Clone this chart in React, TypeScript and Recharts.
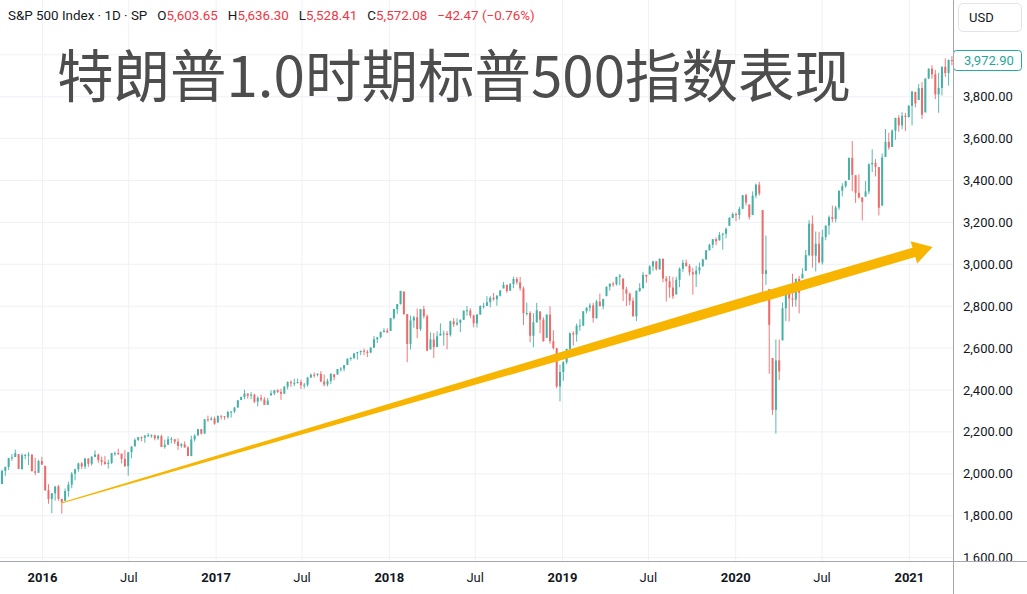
import React from 'react';
import { ComposedChart, Bar, XAxis, YAxis, CartesianGrid, ReferenceLine } from 'recharts';

// ---------- layout ----------
const CHART_W = 1027;
const CHART_H = 594;
const X_AXIS_H = 33;
const Y_AXIS_W = 74;
const PLOT_W = CHART_W - Y_AXIS_W;
const PLOT_H = CHART_H - X_AXIS_H;

const UP = '#45b1a6';
const DOWN = '#ee6b6b';
const BADGE = '#26a69a';
const ARROW = '#f7b500';
const TEXT = '#131722';
const GRID = '#eef1f7';
const FRAME = '#a3a6ae';
const LATIN = 'Roboto, "Noto Sans", sans-serif';

// ---------- texts ----------
const TITLE = '特朗普1.0时期标普500指数表现';
const SYMBOL = 'S&P 500 Index · 1D · SP';
const OHLC_LABELS = ['O', 'H', 'L', 'C'];
const OHLC_VALUES = ['5,603.65', '5,636.30', '5,528.41', '5,572.08'];
const CHANGE = '−42.47 (−0.76%)';
const CURRENCY = 'USD';

// ---------- axes ----------
const X_DOMAIN = [-89.5, 1919];
const Y_DOMAIN = [1583.8, 4261.6];
const Y_TICKS = [1600, 1800, 2000, 2200, 2400, 2600, 2800, 3000, 3200, 3400, 3600, 3800, 4000];
const X_TICK_DATES = ['2016-01-01', '2016-07-01', '2017-01-01', '2017-07-01', '2018-01-01', '2018-07-01',
  '2019-01-01', '2019-07-01', '2020-01-01', '2020-07-01', '2021-01-01'];
const X_TICK_LABELS = ['2016', 'Jul', '2017', 'Jul', '2018', 'Jul', '2019', 'Jul', '2020', 'Jul', '2021'];

// ---------- weekly S&P 500 candles: [high, low, close]; one row per week ----------
const FIRST_WEEK = '2015-09-28';
const FIRST_OPEN = 1929;

const w2015 = [
  [1952, 1893, 1951], [2020, 1951, 2014], [2034, 1990, 2033], [2076, 2018, 2075], [2094, 2062, 2079],
  [2116, 2080, 2099], [2094, 2023, 2023], [2097, 2019, 2089], [2095, 2070, 2090], [2104, 2042, 2092],
  [2093, 2012, 2012], [2077, 1993, 2005], [2067, 2005, 2061], [2081, 2043, 2044],
];
const w2016 = [
  [2038, 1918, 1922], [1950, 1857, 1880], [1908, 1812, 1907], [1940, 1872, 1940], [1947, 1872, 1880],
  [1881, 1810, 1865], [1930, 1871, 1918], [1962, 1891, 1948], [2009, 1931, 2000], [2022, 1969, 2022],
  [2053, 2010, 2050], [2056, 2023, 2035], [2075, 2023, 2073], [2074, 2033, 2048], [2085, 2039, 2081],
  [2112, 2080, 2092], [2096, 2052, 2065], [2082, 2040, 2057], [2085, 2043, 2047], [2067, 2025, 2052],
  [2099, 2047, 2099], [2106, 2086, 2099], [2120, 2089, 2096], [2096, 2050, 2071], [2113, 2032, 2037],
  [2103, 1991, 2103], [2132, 2075, 2130], [2169, 2131, 2162], [2175, 2156, 2175], [2178, 2155, 2173],
  [2183, 2148, 2183], [2194, 2175, 2184], [2188, 2172, 2184], [2187, 2160, 2169], [2185, 2161, 2180],
  [2187, 2128, 2128], [2163, 2120, 2139], [2180, 2138, 2165], [2175, 2145, 2168], [2165, 2142, 2153],
  [2169, 2114, 2133], [2147, 2124, 2141], [2155, 2124, 2126], [2133, 2084, 2085], [2182, 2084, 2164],
  [2189, 2154, 2182], [2214, 2183, 2213], [2214, 2187, 2192], [2260, 2192, 2260], [2278, 2248, 2258],
  [2273, 2254, 2264], [2273, 2234, 2239],
];
const w2017 = [
  [2277, 2245, 2277], [2279, 2258, 2275], [2276, 2258, 2271], [2301, 2263, 2295], [2300, 2268, 2297],
  [2319, 2290, 2316], [2351, 2316, 2351], [2368, 2352, 2367], [2401, 2356, 2383], [2384, 2358, 2373],
  [2390, 2356, 2378], [2382, 2337, 2344], [2370, 2322, 2363], [2378, 2345, 2355], [2366, 2328, 2329],
  [2363, 2328, 2349], [2399, 2374, 2384], [2400, 2375, 2399], [2404, 2386, 2391], [2406, 2353, 2382],
  [2418, 2382, 2416], [2440, 2403, 2439], [2446, 2415, 2432], [2454, 2419, 2433], [2454, 2431, 2438],
  [2450, 2405, 2423], [2434, 2407, 2425], [2463, 2416, 2459], [2479, 2459, 2473], [2484, 2459, 2472],
  [2480, 2465, 2477], [2490, 2437, 2441], [2474, 2417, 2426], [2454, 2417, 2443], [2480, 2428, 2477],
  [2475, 2447, 2461], [2500, 2474, 2500], [2509, 2488, 2502], [2520, 2489, 2519], [2552, 2520, 2549],
  [2557, 2540, 2553], [2575, 2547, 2575], [2582, 2545, 2581], [2588, 2566, 2587], [2598, 2566, 2582],
  [2591, 2557, 2579], [2605, 2576, 2602], [2658, 2600, 2642], [2652, 2624, 2652], [2680, 2647, 2676],
  [2695, 2676, 2683], [2695, 2673, 2674],
];
const w2018 = [
  [2744, 2682, 2743], [2787, 2737, 2786], [2810, 2763, 2810], [2873, 2808, 2873], [2870, 2759, 2762],
  [2763, 2533, 2620], [2755, 2593, 2732], [2754, 2697, 2747], [2789, 2647, 2691], [2787, 2682, 2786],
  [2802, 2741, 2752], [2761, 2585, 2588], [2675, 2594, 2641], [2672, 2553, 2604], [2680, 2605, 2656],
  [2718, 2660, 2670], [2684, 2612, 2670], [2682, 2594, 2663], [2732, 2655, 2728], [2743, 2701, 2713],
  [2742, 2707, 2721], [2737, 2676, 2735], [2779, 2735, 2779], [2801, 2755, 2780], [2790, 2743, 2755],
  [2760, 2699, 2718], [2763, 2698, 2760], [2804, 2760, 2801], [2816, 2789, 2802], [2848, 2801, 2819],
  [2848, 2795, 2840], [2863, 2826, 2833], [2853, 2802, 2850], [2876, 2846, 2875], [2916, 2885, 2902],
  [2903, 2864, 2872], [2911, 2874, 2905], [2941, 2886, 2930], [2939, 2903, 2914], [2940, 2874, 2885],
  [2894, 2710, 2767], [2817, 2755, 2768], [2776, 2628, 2659], [2767, 2604, 2723], [2816, 2722, 2781],
  [2775, 2671, 2736], [2747, 2631, 2633], [2760, 2649, 2760], [2800, 2621, 2633], [2685, 2593, 2600],
  [2601, 2409, 2417], [2520, 2346, 2486], [2538, 2444, 2532],
];
const w2019 = [
  [2597, 2524, 2596], [2675, 2570, 2671], [2681, 2612, 2665], [2717, 2631, 2707], [2738, 2682, 2708],
  [2776, 2704, 2776], [2795, 2766, 2793], [2814, 2775, 2804], [2816, 2722, 2743], [2830, 2740, 2822],
  [2860, 2800, 2800], [2836, 2785, 2834], [2894, 2848, 2893], [2910, 2874, 2907], [2917, 2893, 2905],
  [2940, 2898, 2940], [2954, 2900, 2946], [2932, 2825, 2881], [2892, 2801, 2860], [2865, 2805, 2826],
  [2841, 2750, 2752], [2876, 2729, 2873], [2910, 2868, 2887], [2964, 2883, 2950], [2950, 2912, 2942],
  [2996, 2952, 2990], [3017, 2967, 3014], [3016, 2970, 2977], [3028, 2973, 3026], [3028, 2914, 2932],
  [2944, 2822, 2919], [2944, 2840, 2889], [2939, 2835, 2847], [2940, 2856, 2926], [2985, 2891, 2979],
  [3021, 2964, 3007], [3022, 2989, 2992], [3002, 2946, 2962], [2983, 2855, 2952], [2993, 2892, 2970],
  [3008, 2953, 2986], [3027, 2990, 3023], [3067, 3023, 3067], [3098, 3066, 3093], [3121, 3077, 3120],
  [3128, 3091, 3110], [3154, 3114, 3141], [3150, 3070, 3146], [3176, 3124, 3169], [3226, 3184, 3221],
  [3248, 3220, 3240], [3247, 3206, 3235],
];
const w2020 = [
  [3275, 3214, 3265], [3330, 3263, 3330], [3337, 3281, 3295], [3285, 3214, 3226], [3348, 3235, 3328],
  [3385, 3315, 3380], [3394, 3328, 3338], [3259, 2855, 2954], [3137, 2901, 2972], [2882, 2478, 2711],
  [2553, 2281, 2305], [2641, 2192, 2541], [2641, 2447, 2489], [2818, 2637, 2790], [2879, 2729, 2875],
  [2868, 2727, 2837], [2955, 2797, 2831], [2932, 2798, 2930], [2945, 2766, 2864], [2981, 2933, 2955],
  [3068, 2969, 3044], [3211, 3038, 3194], [3233, 2984, 3041], [3156, 2966, 3098], [3155, 3005, 3009],
  [3165, 2999, 3130], [3185, 3115, 3185], [3233, 3142, 3225], [3280, 3200, 3216], [3279, 3200, 3271],
  [3352, 3260, 3351], [3387, 3324, 3373], [3399, 3365, 3397], [3509, 3403, 3508], [3588, 3349, 3427],
  [3425, 3293, 3341], [3429, 3313, 3319], [3320, 3209, 3298], [3398, 3323, 3348], [3482, 3335, 3477],
  [3549, 3440, 3484], [3502, 3420, 3465], [3464, 3233, 3270], [3529, 3280, 3510], [3646, 3512, 3585],
  [3628, 3547, 3558], [3644, 3560, 3638], [3699, 3594, 3699], [3712, 3633, 3663], [3726, 3645, 3709],
  [3723, 3636, 3703], [3760, 3700, 3756],
];
const w2021 = [
  [3826, 3663, 3825], [3823, 3749, 3768], [3860, 3784, 3841], [3870, 3694, 3714], [3887, 3725, 3887],
  [3935, 3884, 3934], [3950, 3885, 3907], [3928, 3789, 3811], [3914, 3723, 3842], [3944, 3806, 3943],
  [3983, 3895, 3913], [3978, 3853, 3975], [3994, 3950, 3972.9],
];

// ---------- arrow (data coordinates) ----------
const ARROW_FROM = { date: '2016-02-10', price: 1861 };
const ARROW_TO = { date: '2021-02-19', price: 3083 };

// ---------- build table ----------
const DAY0 = Date.UTC(2016, 0, 1);
const toDay = (s: string) => {
  const [y, m, d] = s.split('-').map(Number);
  return (Date.UTC(y, m - 1, d) - DAY0) / 86400000;
};
const weeks = [...w2015, ...w2016, ...w2017, ...w2018, ...w2019, ...w2020, ...w2021];
const startDay = toDay(FIRST_WEEK);
const candles = weeks.map((r, i) => {
  const prev = i === 0 ? FIRST_OPEN : weeks[i - 1][2];
  const o = Math.min(Math.max(prev, r[1]), r[0]);
  return { d: startDay + 7 * i + 2, o, h: r[0], l: r[1], c: r[2] };
});
const LAST = weeks[weeks.length - 1][2];
const xTickDays = X_TICK_DATES.map(toDay);
const labelForDay = (d: number) => {
  const i = xTickDays.indexOf(d);
  return i >= 0 ? X_TICK_LABELS[i] : '';
};
const fmt = (v: number) => v.toLocaleString('en-US', { minimumFractionDigits: 2, maximumFractionDigits: 2 });

// ---------- shapes ----------
const Candle = (props: any) => {
  const { x, y, width, height, payload } = props;
  if (!payload || height == null || isNaN(y)) return null;
  const { o, h, l, c } = payload;
  const span = h - l || 1;
  const py = (v: number) => y + ((h - v) / span) * height;
  const cx = x + width / 2;
  const col = c >= o ? UP : DOWN;
  const top = Math.min(py(o), py(c));
  const bh = Math.max(1, Math.abs(py(o) - py(c)));
  return (
    <g>
      <line x1={cx} x2={cx} y1={y} y2={y + height} stroke={col} strokeWidth={0.9} />
      <rect x={cx - width / 2} y={top} width={width} height={bh} fill={col} />
    </g>
  );
};

const ArrowShape = (p: any) => {
  const { x1, y1, x2, y2 } = p;
  if ([x1, y1, x2, y2].some((v) => v == null || isNaN(v))) return null;
  const dx = x2 - x1, dy = y2 - y1;
  const L = Math.hypot(dx, dy);
  const ux = dx / L, uy = dy / L, nx = -uy, ny = ux;
  const HL = 19.5, HW = 11.6, W0 = 0.5, W1 = 4.9, MID = 0.75;
  const bx = x2 - ux * HL, by = y2 - uy * HL;
  const mx = x1 + (bx - x1) * MID, my = y1 + (by - y1) * MID;
  const pts = [
    [x1 + nx * W0, y1 + ny * W0], [mx + nx * W1, my + ny * W1], [bx + nx * W1, by + ny * W1],
    [bx + nx * HW, by + ny * HW], [x2, y2], [bx - nx * HW, by - ny * HW],
    [bx - nx * W1, by - ny * W1], [mx - nx * W1, my - ny * W1], [x1 - nx * W0, y1 - ny * W0],
  ];
  return <polygon points={pts.map((q) => q.join(',')).join(' ')} fill={ARROW} />;
};

const YTick = (props: any) => {
  const { x, y, payload, index } = props;
  const v = payload.value;
  if (v === LAST) {
    return (
      <g>
        <rect x={x + 0.5} y={y - 10} width={68} height={20} rx={3} fill="#ffffff" stroke={BADGE} strokeWidth={1} />
        <text x={x + 11} y={y} dominantBaseline="central" fill={BADGE} fontSize={13} fontFamily={LATIN}>{fmt(v)}</text>
      </g>
    );
  }
  const id = `yclip-${index}`;
  return (
    <g>
      <defs>
        <clipPath id={id}>
          <rect x={PLOT_W} y={0} width={Y_AXIS_W} height={PLOT_H} />
        </clipPath>
      </defs>
      <text x={x + 10} y={y} dominantBaseline="central" fill={TEXT} fontSize={13} fontFamily={LATIN} clipPath={`url(#${id})`}>
        {fmt(v)}
      </text>
    </g>
  );
};

const XTick = (props: any) => {
  const { x, y, payload } = props;
  const lab = labelForDay(payload.value);
  return (
    <text x={x} y={y + 16} textAnchor="middle" dominantBaseline="central" fill={TEXT} fontSize={13}
      fontFamily={LATIN} fontWeight={lab === 'Jul' ? 400 : 700}>
      {lab}
    </text>
  );
};

export default function App() {
  return (
    <div style={{ position: 'relative', width: CHART_W, height: CHART_H, background: '#ffffff', overflow: 'hidden', fontFamily: LATIN }}>
      <style>{'body{margin:0;}'}</style>
      <ComposedChart width={CHART_W} height={CHART_H} data={candles} margin={{ top: 0, right: 0, bottom: 0, left: 0 }}>
        <CartesianGrid stroke={GRID} horizontalValues={Y_TICKS} verticalValues={xTickDays} />
        <XAxis
          dataKey="d"
          type="number"
          domain={X_DOMAIN}
          allowDataOverflow
          ticks={xTickDays}
          interval={0}
          height={X_AXIS_H}
          axisLine={false}
          tickLine={false}
          tickSize={0}
          tickMargin={0}
          tick={(p: any) => <XTick {...p} />}
        />
        <YAxis
          orientation="right"
          type="number"
          domain={Y_DOMAIN}
          allowDataOverflow
          ticks={[...Y_TICKS, LAST]}
          interval={0}
          width={Y_AXIS_W}
          axisLine={false}
          tickLine={false}
          tickSize={0}
          tickMargin={0}
          tick={(p: any) => <YTick {...p} />}
        />
        <Bar dataKey={(d: any) => [d.l, d.h]} barSize={2} shape={Candle} isAnimationActive={false} />
        <ReferenceLine
          segment={[
            { x: toDay(ARROW_FROM.date), y: ARROW_FROM.price },
            { x: toDay(ARROW_TO.date), y: ARROW_TO.price },
          ]}
          shape={ArrowShape}
          zIndex={700}
        />
      </ComposedChart>

      {/* frame lines */}
      <div style={{ position: 'absolute', left: PLOT_W, top: 0, width: 1, height: CHART_H, background: FRAME }} />
      <div style={{ position: 'absolute', left: 0, top: PLOT_H, width: CHART_W, height: 1, background: FRAME }} />

      {/* legend */}
      <div style={{ position: 'absolute', left: 8, top: 8, fontSize: 13.4, lineHeight: '16px', color: TEXT, whiteSpace: 'nowrap' }}>
        <span>{SYMBOL}</span>
        {OHLC_LABELS.map((k, i) => (
          <span key={k} style={{ marginLeft: 10 }}>
            {k}
            <span style={{ color: '#f23645' }}>{OHLC_VALUES[i]}</span>
          </span>
        ))}
        <span style={{ marginLeft: 10, color: '#f23645' }}>{CHANGE}</span>
      </div>

      {/* currency box */}
      <div style={{
        position: 'absolute', left: 958, top: 3, width: 52, height: 27, border: '1px solid #e0e3eb', borderRadius: 5,
        fontSize: 13, lineHeight: '27px', paddingLeft: 10, boxSizing: 'content-box', color: TEXT, background: '#fff',
      }}>
        {CURRENCY}
      </div>

      {/* title */}
      <div style={{
        position: 'absolute', left: 57, top: 44, fontSize: 56.5, lineHeight: '56px', color: '#4d4d4d',
        fontFamily: '"Noto Sans CJK SC", "Noto Sans", sans-serif', whiteSpace: 'nowrap',
      }}>
        {TITLE}
      </div>
    </div>
  );
}
